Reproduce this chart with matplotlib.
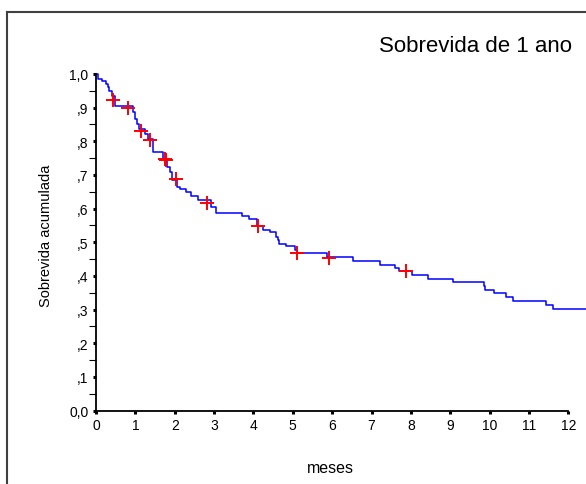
import matplotlib.pyplot as plt
from matplotlib.lines import Line2D
import numpy as np

plt.rcParams['font.family'] = ['Liberation Sans', 'DejaVu Sans']

# Kaplan-Meier steps (time in months, cumulative survival after the step)
step_times = [0.00, 0.04, 0.15, 0.25, 0.30, 0.34, 0.40, 0.48, 0.95, 0.99,
              1.03, 1.10, 1.25, 1.33, 1.44, 1.71, 1.81, 1.88, 1.92, 2.07,
              2.13, 2.28, 2.41, 2.58, 2.92, 3.06, 3.72, 3.89, 4.09, 4.25,
              4.41, 4.57, 4.63, 4.66, 4.84, 5.06, 5.10, 5.86, 6.54, 7.22,
              7.60, 7.69, 8.02, 8.44, 9.08, 9.86, 9.89, 10.10, 10.42, 10.59,
              11.44, 11.62, 12.45]
step_surv = [1.000, 0.985, 0.978, 0.970, 0.960, 0.950, 0.934, 0.904, 0.886, 0.866,
             0.851, 0.837, 0.822, 0.807, 0.767, 0.748, 0.723, 0.708, 0.686, 0.663,
             0.658, 0.648, 0.638, 0.625, 0.605, 0.588, 0.577, 0.569, 0.549, 0.536,
             0.530, 0.517, 0.507, 0.495, 0.488, 0.477, 0.467, 0.455, 0.443, 0.432,
             0.423, 0.415, 0.403, 0.391, 0.381, 0.369, 0.359, 0.348, 0.336, 0.324,
             0.313, 0.302, 0.302]

# censored observations
cens_times = [0.44, 0.82, 1.15, 1.37, 1.75, 1.78, 2.02, 2.81, 4.12, 5.10, 5.93, 7.88]
cens_surv = [0.922, 0.898, 0.830, 0.803, 0.748, 0.743, 0.688, 0.618, 0.547, 0.467, 0.454, 0.415]

y_ticks = [0.0, 0.1, 0.2, 0.3, 0.4, 0.5, 0.6, 0.7, 0.8, 0.9, 1.0]
y_labels = ['0,0', ',1', ',2', ',3', ',4', ',5', ',6', ',7', ',8', ',9', '1,0']
x_ticks = list(range(13))

W, H = 586, 485
fig = plt.figure(figsize=(W / 100, H / 100), dpi=100)
ax = fig.add_axes([96 / W, 1 - 411.5 / H, 1 - 96 / W, (411.5 - 75) / H])

ax.step(step_times, step_surv, where='post', color='#0000ff', lw=1.1, clip_on=False)
ax.plot(cens_times, cens_surv, '+', color='#ff0000', ms=10, mew=1.4, clip_on=False)

ax.set_xlim(0, 12.45)
ax.set_ylim(0, 1.0)

for s in ['top', 'right']:
    ax.spines[s].set_visible(False)
ax.spines['left'].set_bounds(0, 1)
ax.spines['bottom'].set_bounds(0, 12)
ax.spines['left'].set_linewidth(1.3)
ax.spines['bottom'].set_linewidth(1.3)

ax.set_xticks(x_ticks)
ax.set_xticklabels([str(t) for t in x_ticks], fontsize=10)
ax.set_yticks(y_ticks)
ax.set_yticklabels(y_labels, fontsize=10)
ax.set_yticks(np.arange(0.05, 1.0, 0.1), minor=True)
ax.tick_params(axis='both', which='major', direction='out', length=2.5, width=2.2, pad=3)
ax.tick_params(axis='y', which='minor', direction='out', length=5, width=0.8)

# labels and title
fig.text(330 / W, 1 - 469 / H, 'meses', fontsize=11.5, ha='center', va='center')
fig.text(46 / W, 1 - 236 / H, 'Sobrevida acumulada', fontsize=10.5,
         rotation=90, ha='center', va='center')
fig.text(572 / W, 1 - 47 / H, 'Sobrevida de 1 ano', fontsize=16, ha='right', va='center')

# outer frame (cropped)
fig.add_artist(Line2D([7 / W, 7 / W], [0, 1 - 13 / H], color='#404040', lw=1.5))
fig.add_artist(Line2D([7 / W, 1], [1 - 13 / H, 1 - 13 / H], color='#404040', lw=1.5))

plt.savefig('out.png', dpi=100)
plt.close()
